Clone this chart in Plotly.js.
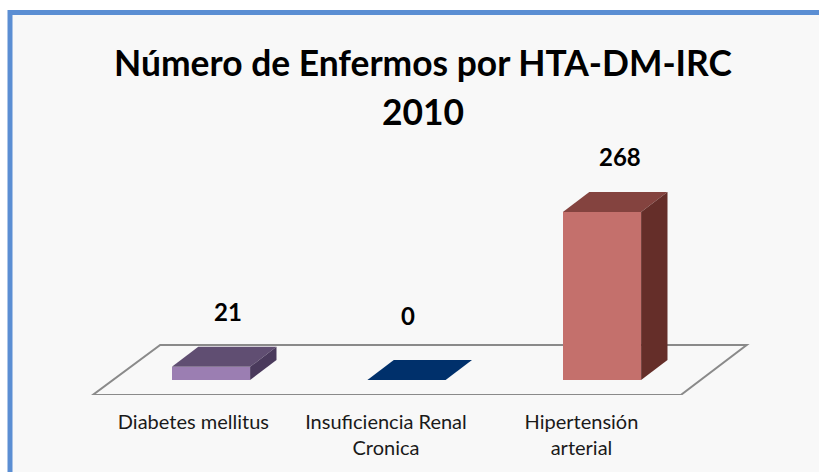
<!DOCTYPE html>
<html><head><meta charset="utf-8">
<script src="https://cdn.plot.ly/plotly-3.0.1.min.js"></script>
<style>html,body{margin:0;padding:0;background:#fff}</style></head>
<body><div id="chart" style="width:819px;height:472px"></div>
<script>
const categories = ['Diabetes mellitus', 'Insuficiencia Renal<br>Cronica', 'Hipertensión<br>arterial'];
const values = [21, 0, 268];
const frontColors = ['#9b7eb2', '#00306b', '#c4706c'];
const topColors = ['#604e72', '#00306b', '#84433f'];
const sideColors = ['#4a3a5c', '#00306b', '#652e29'];
const barWidth = 0.4;
const depthX = 0.135, depthY = 32;
const positions = categories.map((c, i) => i);
const tickOffsets = [-0.09, -0.105, -0.105];
const labelShiftX = [17, 1, 18];
const labelShiftY = [55, 65, 55];

const xr = [-211/195.5, (819-211)/195.5];
const yr = [-23.9, 606];
const floorX = [-0.605, 2.403, 2.74, -0.26];
const floorY = [-23.9, -23.9, 55.8, 55.8];

const traces = [{
  type: 'bar', x: positions, y: values, width: barWidth,
  marker: {color: frontColors, line: {width: 0}}, hoverinfo: 'x+y'
}];
values.forEach((v, i) => {
  const l = i - barWidth/2, r = i + barWidth/2;
  traces.push({type: 'scatter', mode: 'lines', fill: 'toself', fillcolor: topColors[i],
    line: {width: 0}, hoverinfo: 'skip',
    x: [l, r, r + depthX, l + depthX, l], y: [v, v, v + depthY, v + depthY, v]});
  traces.push({type: 'scatter', mode: 'lines', fill: 'toself', fillcolor: sideColors[i],
    line: {width: 0}, hoverinfo: 'skip',
    x: [r, r + depthX, r + depthX, r, r], y: [0, depthY, v + depthY, v, 0]});
});

const layout = {
  width: 819, height: 472, showlegend: false, bargap: 0,
  margin: {l: 0, r: 0, t: 0, b: 77},
  paper_bgcolor: '#ffffff', plot_bgcolor: 'rgba(0,0,0,0)',
  font: {family: 'Lato, sans-serif', color: '#111'},
  title: {text: '<span style="font-size:35.4px">Número de Enfermos por HTA-DM-IRC</span><br><span style="font-size:35.4px">2010</span>',
    x: 423/819, xanchor: 'center', y: 0.84, yanchor: 'top',
    font: {family: 'Lato, sans-serif', size: 38, weight: 700, color: '#000'}},
  xaxis: {range: xr, tickmode: 'array', tickvals: positions.map((p, i) => p + tickOffsets[i]), ticktext: categories,
    showgrid: false, zeroline: false, showline: false, ticks: '', ticklabelstandoff: 13,
    tickfont: {family: 'Lato, sans-serif', size: 20, color: '#1a1a1a'}, fixedrange: true},
  yaxis: {range: yr, visible: false, fixedrange: true},
  shapes: [
    {type: 'rect', xref: 'paper', yref: 'paper', x0: 10/819, x1: 1.1, y0: -0.3, y1: (395-12.5)/395,
     fillcolor: '#f8f8f8', line: {color: '#5b8ed3', width: 5}, layer: 'below'},
    {type: 'path', xref: 'x', yref: 'y', layer: 'below',
     path: 'M' + floorX.map((x, i) => x + ',' + floorY[i]).join('L') + 'Z',
     fillcolor: '#f8f8f8', line: {color: '#8a8a8a', width: 2}}
  ],
  annotations: values.map((v, i) => ({
    x: i, y: v, xref: 'x', yref: 'y', text: String(v), showarrow: false,
    xshift: labelShiftX[i], yshift: labelShiftY[i],
    font: {family: 'Lato, sans-serif', size: 24, weight: 700, color: '#000'}
  }))
};
Plotly.newPlot('chart', traces, layout, {displayModeBar: false});
</script></body></html>
